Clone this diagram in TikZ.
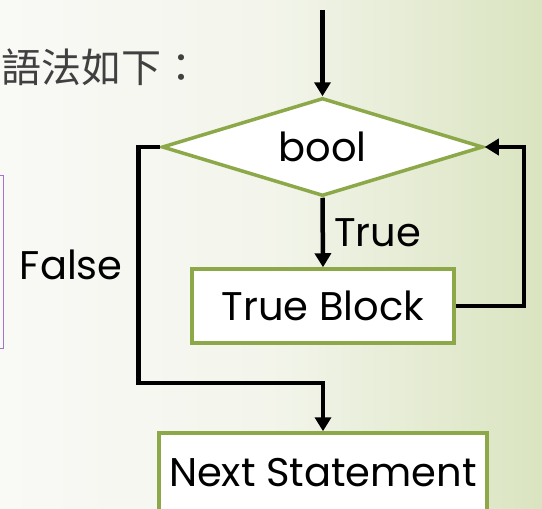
\documentclass[tikz,border=0pt]{standalone}
\usepackage{fontspec}
\setmainfont{Poppins}
\newfontfamily\cjk{Noto Sans CJK TC}
\usetikzlibrary{arrows.meta,shapes.geometric}
\definecolor{boxgreen}{RGB}{140,168,72}
\definecolor{bgleft}{RGB}{249,249,246}
\definecolor{bgright}{RGB}{218,228,192}
\definecolor{slidepurple}{RGB}{165,115,205}
\tikzset{
	flow/.style={line width=4.5pt, -{Triangle[length=14pt,width=16pt]}},
	decision/.style={diamond, draw=boxgreen, fill=white, line width=3.5pt, aspect=3.3, inner sep=0pt, minimum width=321pt, minimum height=98pt},
	block/.style={rectangle, draw=boxgreen, fill=white, line width=3.5pt, inner sep=0pt},
	lbl/.style={font=\fontsize{40}{48}\selectfont}
}
\begin{document}
\begin{tikzpicture}[x=1pt, y=-1pt]
		%%%%% START %%%%%
		\useasboundingbox (0, 0) rectangle (542, 509);
		\shade[left color=bgleft, right color=bgright, middle color=bgleft!80!bgright] (0, 0) rectangle (542, 509);
		
		\node[anchor=west, inner sep=0pt, text=black!75, font=\cjk\fontsize{40}{46}\selectfont] (syntax) at (1, 67) {語法如下：};
		\draw[slidepurple, line width=1pt] (-20, 175) rectangle (3, 348);
		
		\coordinate (start) at (322.5, 10);
		\node[decision, lbl] (bool) at (322.5, 147) {bool};
		\node[block, lbl, minimum width=262pt, minimum height=74pt] (tblock) at (323, 306) {True Block};
		\node[block, lbl, minimum width=328pt, minimum height=80pt] (next) at (323, 473) {Next Statement};
		
		\draw[flow] (start) -- (bool.north);
		\draw[flow] (bool.south) -- node[lbl, right=6pt] (true) {True} (tblock.north);
		\draw[flow] (tblock.east) -| ([xshift=39pt]bool.east) -- (bool.east);
		\draw[flow] (bool.west) -- ++(-22, 0) -- node[lbl, left=10pt] (false) {False} ++(0, 236) -| (next.north);
		%%%%% END %%%%%
	\end{tikzpicture}
\end{document}
